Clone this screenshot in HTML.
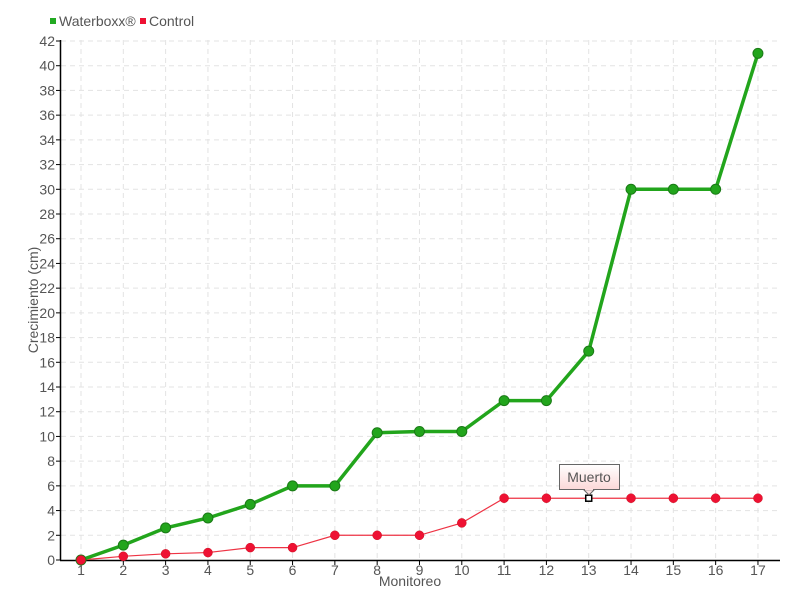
<!DOCTYPE html>
<html><head><style>
body{margin:0;background:#fff;}
svg text{font-family:"Liberation Sans Narrow","Liberation Sans",sans-serif;fill:#555;}
</style></head><body>
<svg width="800" height="600" xmlns="http://www.w3.org/2000/svg">
<g id="grid" stroke="#e3e3e3" stroke-width="1" stroke-dasharray="5,4"></g>
<g id="ylab" font-size="14" text-anchor="end"></g>
<g id="xlab" font-size="14" text-anchor="middle"></g>
<line x1="60.5" y1="40" x2="60.5" y2="560" stroke="#000" stroke-width="1.5"/>
<line x1="60" y1="560.5" x2="780" y2="560.5" stroke="#000" stroke-width="1.5"/>
<g id="series"></g>
<text x="410" y="586" font-size="14" text-anchor="middle">Monitoreo</text>
<text x="38" y="300" font-size="14" text-anchor="middle" transform="rotate(-90 38 300)">Crecimiento (cm)</text>
<rect x="50" y="18" width="6" height="6" fill="#22aa22"/>
<text x="59" y="26" font-size="14">Waterboxx®</text>
<rect x="140" y="18" width="6" height="6" fill="#ee1133"/>
<text x="149" y="26" font-size="14">Control</text>
<defs><linearGradient id="tg" x1="0" y1="0" x2="0" y2="1"><stop offset="0" stop-color="#fff"/><stop offset="1" stop-color="#fcd8d8"/></linearGradient></defs>
<rect x="559.5" y="464.5" width="60" height="25" fill="url(#tg)" stroke="#666"/>
<polygon points="584,490 589,495 594,490" fill="#fce0e0" stroke="#666"/>
<line x1="585" y1="489.5" x2="593" y2="489.5" stroke="#fce0e0" stroke-width="1.5"/>
<text x="589" y="482" font-size="14" text-anchor="middle" fill="#444">Muerto</text>
</svg>
<script>
const ns="http://www.w3.org/2000/svg";
function el(p,t,a,txt){const e=document.createElementNS(ns,t);for(const k in a)e.setAttribute(k,a[k]);if(txt!=null)e.textContent=txt;document.getElementById(p).appendChild(e);return e;}
const X=i=>81+(i-1)*42.31, Y=v=>560-v*12.357;
for(let v=0;v<=42;v+=2){const y=Y(v);if(v>0)el("grid","line",{x1:61,x2:780,y1:y,y2:y});
el("grid","line",{x1:56,x2:61,y1:y,y2:y,stroke:"#000","stroke-dasharray":"none"});
el("ylab","text",{x:55,y:y+5},v);}
for(let i=1;i<=17;i++){const x=X(i);el("grid","line",{x1:x,x2:x,y1:40,y2:560});
el("grid","line",{x1:x,x2:x,y1:560,y2:565,stroke:"#000","stroke-dasharray":"none"});
el("xlab","text",{x:x,y:575},i);}
const g=[0,1.2,2.6,3.4,4.5,6,6,10.3,10.4,10.4,12.9,12.9,16.9,30,30,30,41];
const r=[0,0.3,0.5,0.6,1,1,2,2,2,3,5,5,5,5,5,5,5];
el("series","polyline",{points:r.map((v,i)=>X(i+1)+","+Y(v)).join(" "),fill:"none",stroke:"#ee3344","stroke-width":1.2});
el("series","polyline",{points:g.map((v,i)=>X(i+1)+","+Y(v)).join(" "),fill:"none",stroke:"#22a51c","stroke-width":3.5});
g.forEach((v,i)=>el("series","circle",{cx:X(i+1),cy:Y(v),r:5,fill:"#22a51c",stroke:"#1a7a16","stroke-width":1}));
r.forEach((v,i)=>{if(i==12)el("series","rect",{x:X(13)-3,y:Y(5)-3,width:6,height:6,fill:"#fff",stroke:"#000","stroke-width":1.5});
else el("series","circle",{cx:X(i+1),cy:Y(v),r:4.5,fill:"#ee1133",stroke:"#cc1122","stroke-width":0.5});});
</script>
</body></html>
